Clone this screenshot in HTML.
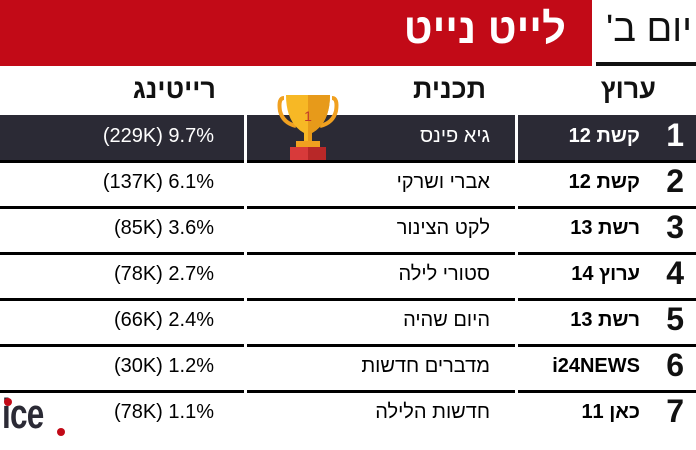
<!DOCTYPE html>
<html><head><meta charset="utf-8"><style>
body{margin:0;width:696px;height:450px;background:#fff;overflow:hidden;position:relative;font-family:"Liberation Sans","Noto Sans CJK SC",sans-serif;}
.a{position:absolute;}
.red{left:0;top:0;width:592px;height:66px;background:#c20a17;}
.t{color:#fff;font-weight:bold;font-size:42px;right:130px;top:5px;direction:rtl;}
.day{right:4px;top:8px;font-size:38px;color:#111;direction:rtl;}
.ul{left:596px;top:62px;width:100px;height:4px;background:#111;}
.h{font-weight:bold;font-size:27px;color:#111;top:74px;direction:rtl;}
.dark{top:115px;height:45px;background:#2b2a35;}
.ln{height:3px;background:#000;}
.r{position:absolute;direction:rtl;white-space:nowrap;}
.n{font-weight:bold;font-size:32px;right:12px;color:#111;}
.c{font-weight:bold;font-size:20px;right:56px;}
.p{font-size:20px;right:206px;}
.v{font-size:20px;right:482px;direction:ltr;}
</style></head><body>
<div class="a red"></div>
<div class="a t">לייט נייט</div>
<div class="a day">יום ב'</div>
<div class="a ul"></div>
<div class="a h" style="right:40px">ערוץ</div>
<div class="a h" style="right:210px">תכנית</div>
<div class="a h" style="right:480px">רייטינג</div>
<div class="a dark" style="left:0;width:244px"></div>
<div class="a dark" style="left:247px;width:268px"></div>
<div class="a dark" style="left:518px;width:178px"></div>
<svg class="a" style="left:276px;top:93px" width="64" height="70" viewBox="0 0 64 70">
<path d="M8 5 Q2 5 4 18 Q7 30 20 33" fill="none" stroke="#f0a020" stroke-width="4"/>
<path d="M56 5 Q62 5 60 18 Q57 30 44 33" fill="none" stroke="#f0a020" stroke-width="4"/>
<path d="M10 2 H54 Q54 30 36 40 V48 H28 V40 Q10 30 10 2Z" fill="#f7b825"/>
<path d="M32 2 H54 Q54 30 36 40 V48 H32Z" fill="#e79a1a"/>
<rect x="20" y="48" width="24" height="6" fill="#f0a020"/>
<rect x="14" y="54" width="36" height="14" fill="#d83a3a"/>
<rect x="32" y="54" width="18" height="14" fill="#b82828"/>
<text x="32" y="28" font-size="14" fill="#c0392b" text-anchor="middle" font-family="Liberation Sans">1</text>
</svg>
<div class="a ln" style="left:0;width:244px;top:160px"></div><div class="a ln" style="left:247px;width:268px;top:160px"></div><div class="a ln" style="left:518px;width:178px;top:160px"></div>
<div class="a ln" style="left:0;width:244px;top:206px"></div><div class="a ln" style="left:247px;width:268px;top:206px"></div><div class="a ln" style="left:518px;width:178px;top:206px"></div>
<div class="a ln" style="left:0;width:244px;top:252px"></div><div class="a ln" style="left:247px;width:268px;top:252px"></div><div class="a ln" style="left:518px;width:178px;top:252px"></div>
<div class="a ln" style="left:0;width:244px;top:298px"></div><div class="a ln" style="left:247px;width:268px;top:298px"></div><div class="a ln" style="left:518px;width:178px;top:298px"></div>
<div class="a ln" style="left:0;width:244px;top:344px"></div><div class="a ln" style="left:247px;width:268px;top:344px"></div><div class="a ln" style="left:518px;width:178px;top:344px"></div>
<div class="a ln" style="left:0;width:244px;top:390px"></div><div class="a ln" style="left:247px;width:268px;top:390px"></div><div class="a ln" style="left:518px;width:178px;top:390px"></div>

<div class="r n" style="top:117px;color:#fff">1</div><div class="r c" style="top:125px;color:#fff">קשת 12</div><div class="r p" style="top:125px;color:#fff">גיא פינס</div><div class="r v" style="top:125px;color:#fff">(229K) 9.7%</div>
<div class="r n" style="top:163px">2</div><div class="r c" style="top:171px">קשת 12</div><div class="r p" style="top:171px">אברי ושרקי</div><div class="r v" style="top:171px">(137K) 6.1%</div>
<div class="r n" style="top:209px">3</div><div class="r c" style="top:217px">רשת 13</div><div class="r p" style="top:217px">לקט הצינור</div><div class="r v" style="top:217px">(85K) 3.6%</div>
<div class="r n" style="top:255px">4</div><div class="r c" style="top:263px">ערוץ 14</div><div class="r p" style="top:263px">סטורי לילה</div><div class="r v" style="top:263px">(78K) 2.7%</div>
<div class="r n" style="top:301px">5</div><div class="r c" style="top:309px">רשת 13</div><div class="r p" style="top:309px">היום שהיה</div><div class="r v" style="top:309px">(66K) 2.4%</div>
<div class="r n" style="top:347px">6</div><div class="r c" style="top:355px;direction:ltr">i24NEWS</div><div class="r p" style="top:355px">מדברים חדשות</div><div class="r v" style="top:355px">(30K) 1.2%</div>
<div class="r n" style="top:393px">7</div><div class="r c" style="top:401px">כאן 11</div><div class="r p" style="top:401px">חדשות הלילה</div><div class="r v" style="top:401px">(78K) 1.1%</div>
<div class="a" style="left:2px;top:390px;font-weight:bold;font-size:42px;color:#2b2a35;letter-spacing:-1px;transform:scaleX(0.75);transform-origin:left top;">ice</div>
<div class="a" style="left:57px;top:428px;width:8px;height:8px;border-radius:50%;background:#c20a17"></div>
<div class="a" style="left:4px;top:398px;width:8px;height:8px;border-radius:50%;background:#c20a17"></div>
</body></html>
